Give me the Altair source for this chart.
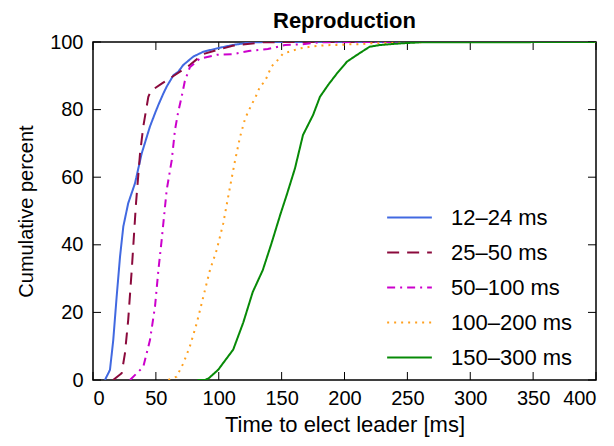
import altair as alt
import pandas as pd

series_names = ["12–24 ms", "25–50 ms", "50–100 ms", "100–200 ms", "150–300 ms"]
series_colors = ["#4169E1", "#8B0A3C", "#CC00CC", "#FFA01E", "#078A07"]
series_dashes = [[1, 0], [12, 8], [8, 5, 2, 5], [2, 5], [1, 0]]

blue_x = [9.5, 13.5, 16.1, 18.8, 21.5, 24.1, 28, 33.4, 38.7, 45.3, 49.3, 52, 56, 58.6, 64, 67.8, 71.8, 79.8, 87.7, 98.4, 111, 125, 140, 400]
blue_y = [0, 3, 11.8, 24.6, 36.5, 45.4, 52.3, 58.2, 67, 75, 78.9, 81.4, 84.8, 86.8, 90.2, 91.2, 93.2, 95.7, 97.1, 98.1, 99.1, 99.9, 100, 100]

red_x = [16, 22.8, 25.4, 28, 30.8, 34.2, 37.4, 40, 44, 46, 54.6, 61, 77, 87.5, 98.4, 111, 135, 160, 400]
red_y = [0, 2, 7.9, 17.8, 32.5, 52.3, 67, 75, 83.8, 85.5, 87.7, 89.2, 93.2, 96.4, 97.6, 98.9, 99.9, 100, 100]

mag_x = [29.4, 40, 45.3, 49.3, 52, 54.6, 58.6, 62.6, 65.2, 67.6, 70.5, 73, 77, 85, 98.4, 111, 125, 139, 152.7, 166, 180, 215, 400]
mag_y = [0, 3.9, 11.8, 21.7, 32.5, 41.4, 56.2, 65, 74, 79, 83.8, 88.4, 92.5, 95.1, 96.2, 96.4, 97.4, 97.9, 99.1, 99.3, 99.9, 100, 100]

orange_x = [59.9, 66.5, 71.8, 77, 82.5, 87.7, 93, 98.4, 103.6, 109, 113, 117, 121, 125.5, 130, 132.8, 136.8, 142, 147, 151, 158, 164.6, 172.5, 180.5, 188.5, 196, 204, 212, 220, 240, 270, 400]
orange_y = [0, 1, 4.9, 9.9, 16.8, 24.6, 32.5, 38.5, 46.4, 57.2, 65, 72, 77.4, 81, 84.3, 86.8, 88.4, 92.8, 94.7, 96.5, 97.4, 98.1, 98.6, 98.9, 99.1, 99.1, 99.3, 99.3, 99.6, 99.8, 100, 100]

green_x = [83, 89, 92, 99.5, 111.5, 119.5, 127, 135, 142, 149, 154, 160.6, 167, 175, 180.5, 187, 194, 202, 210, 220, 228, 245, 260, 400]
green_y = [0, 0, 0.5, 3, 9, 17, 26, 32.5, 40.5, 49, 54.7, 62.6, 72.5, 78.4, 83.8, 87.3, 90.7, 94.2, 96.2, 98.6, 99.1, 99.6, 99.9, 100]

x_ticks = [0, 50, 100, 150, 200, 250, 300, 350, 400]
y_ticks = [0, 20, 40, 60, 80, 100]

rows = []
for name, xs, ys in zip(series_names,
                        [blue_x, red_x, mag_x, orange_x, green_x],
                        [blue_y, red_y, mag_y, orange_y, green_y]):
    for i, (xv, yv) in enumerate(zip(xs, ys)):
        rows.append({"series": name, "t": xv, "p": yv, "i": i})
df = pd.DataFrame(rows)

W, H = 503, 338
FONT = "Liberation Sans"

xscale = alt.Scale(domain=[0, 400], nice=False)
yscale = alt.Scale(domain=[0, 100], nice=False)

lines = alt.Chart(df).mark_line(strokeWidth=2, clip=True).encode(
    x=alt.X("t:Q", scale=xscale,
            axis=alt.Axis(values=x_ticks, ticks=False, domain=False, grid=False,
                          labelPadding=8, labelFontSize=20,
                          title="Time to elect leader [ms]", titleFontSize=22,
                          titlePadding=6)),
    y=alt.Y("p:Q", scale=yscale,
            axis=alt.Axis(values=y_ticks, ticks=False, domain=False, grid=False,
                          labelPadding=10, labelFontSize=20,
                          title="Cumulative percent", titleFontSize=20,
                          titlePadding=13)),
    color=alt.Color("series:N", scale=alt.Scale(domain=series_names, range=series_colors),
                    legend=alt.Legend(title=None)),
    strokeDash=alt.StrokeDash("series:N", scale=alt.Scale(domain=series_names, range=series_dashes),
                              legend=alt.Legend(title=None)),
    order="i:Q",
)

xt = pd.DataFrame({"v": x_ticks})
yt = pd.DataFrame({"v": y_ticks})
tick_len = 8
bottom_ticks = alt.Chart(xt).mark_rule(color="black", strokeWidth=1).encode(
    x=alt.X("v:Q", scale=xscale), y=alt.value(H), y2=alt.value(H - tick_len))
top_ticks = alt.Chart(xt).mark_rule(color="black", strokeWidth=1).encode(
    x=alt.X("v:Q", scale=xscale), y=alt.value(0), y2=alt.value(tick_len))
left_ticks = alt.Chart(yt).mark_rule(color="black", strokeWidth=1).encode(
    y=alt.Y("v:Q", scale=yscale), x=alt.value(0), x2=alt.value(tick_len))
right_ticks = alt.Chart(yt).mark_rule(color="black", strokeWidth=1).encode(
    y=alt.Y("v:Q", scale=yscale), x=alt.value(W), x2=alt.value(W - tick_len))

chart = alt.layer(bottom_ticks, top_ticks, left_ticks, right_ticks, lines).properties(
    width=W, height=H,
    title=alt.TitleParams("Reproduction", fontSize=22, fontWeight="bold", font=FONT,
                          anchor="middle", offset=-1, color="black", frame="group"),
    autosize=alt.AutoSizeParams(type="none"),
    padding={"left": 85, "top": 34, "right": 10, "bottom": 58},
).configure_view(
    stroke="black", strokeWidth=1.5
).configure_axis(
    labelFont=FONT, titleFont=FONT,
    labelColor="black", titleColor="black", titleFontWeight="normal",
).configure_legend(
    orient="none", legendX=293, legendY=152, symbolType="stroke",
    symbolSize=2000, symbolStrokeWidth=2, labelFont=FONT, labelFontSize=22,
    labelColor="black", rowPadding=-13, labelOffset=18,
)

chart.save("out.html", embed_options={"renderer": "svg", "actions": False})
